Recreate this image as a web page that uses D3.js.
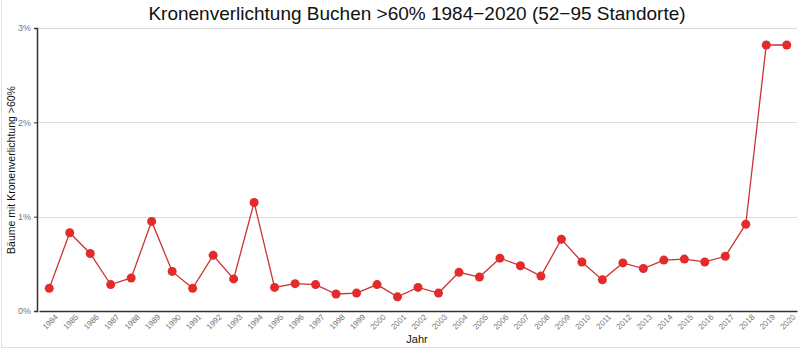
<!DOCTYPE html>
<html>
<head>
<meta charset="utf-8">
<script src="https://cdn.jsdelivr.net/npm/d3@7"></script>
<style>
  html, body { margin: 0; padding: 0; background: #fff; }
  svg { display: block; font-family: "Liberation Sans", Arial, sans-serif; }
</style>
</head>
<body>
<svg id="chart" width="800" height="350"></svg>
<script>
// Jahre der Erhebung
const years = [1984, 1985, 1986, 1987, 1988, 1989, 1990, 1991, 1992, 1993,
  1994, 1995, 1996, 1997, 1998, 1999, 2000, 2001, 2002, 2003,
  2004, 2005, 2006, 2007, 2008, 2009, 2010, 2011, 2012, 2013,
  2014, 2015, 2016, 2017, 2018, 2019, 2020];

// Anteil Buchen mit Kronenverlichtung >60% (in Prozent)
const share = [0.24, 0.83, 0.61, 0.28, 0.35, 0.95, 0.42, 0.24, 0.59, 0.34,
  1.15, 0.25, 0.29, 0.28, 0.18, 0.19, 0.28, 0.15, 0.25, 0.19,
  0.41, 0.36, 0.56, 0.48, 0.37, 0.76, 0.52, 0.33, 0.51, 0.45,
  0.54, 0.55, 0.52, 0.58, 0.92, 2.82, 2.82];

const yTicks = [0, 1, 2, 3];

const title = "Kronenverlichtung Buchen >60% 1984\u22122020 (52\u221295 Standorte)";
const xTitle = "Jahr";
const yTitle = "B\u00e4ume mit Kronenverlichtung >60%";

const svg = d3.select("#chart");
const W = 800, H = 350;
const m = { top: 28, right: 3, bottom: 39, left: 37 };
const iw = W - m.left - m.right;
const ih = H - m.top - m.bottom;

// Rahmen links und unten
svg.append("line").attr("x1", 1.5).attr("x2", 1.5).attr("y1", 0).attr("y2", 347.5)
  .attr("stroke", "#e0e0e0").attr("stroke-width", 1);
svg.append("line").attr("x1", 1).attr("x2", W).attr("y1", 347.5).attr("y2", 347.5)
  .attr("stroke", "#e0e0e0").attr("stroke-width", 1);

const g = svg.append("g").attr("transform", `translate(${m.left},${m.top})`);

const x = d3.scalePoint().domain(years).range([2, iw]).padding(0.5);
const y = d3.scaleLinear().domain([0, 3]).range([ih, 0]);

// Gitterlinien
g.append("g").selectAll("line").data(yTicks.filter(d => d > 0)).join("line")
  .attr("x1", 0).attr("x2", iw)
  .attr("y1", d => Math.round(y(d)) + 0.5).attr("y2", d => Math.round(y(d)) + 0.5)
  .attr("stroke", "#dcdcdc").attr("stroke-width", 1);

// Y-Achse
const yAxis = g.append("g")
  .call(d3.axisLeft(y).tickValues(yTicks).tickFormat(d => d + "%").tickSize(3).tickPadding(3));
yAxis.select(".domain").attr("stroke", "#333").attr("stroke-width", 1.5);
yAxis.selectAll(".tick line").attr("stroke", "#333");
yAxis.selectAll(".tick text").attr("fill", "#777").attr("font-size", "9px")
  .attr("font-family", "Liberation Sans, Arial, sans-serif");

// X-Achse
const xAxis = g.append("g").attr("transform", `translate(0,${ih})`)
  .call(d3.axisBottom(x).tickSize(0).tickPadding(6).tickSizeOuter(0));
xAxis.select(".domain").attr("stroke", "#333").attr("stroke-width", 1.5);
xAxis.selectAll(".tick text")
  .attr("fill", "#777").attr("font-size", "8px")
  .attr("font-family", "Liberation Sans, Arial, sans-serif")
  .attr("text-anchor", "end")
  .attr("dx", "0.2em").attr("dy", "0.6em")
  .attr("transform", "rotate(-45)");

// Linie
const line = d3.line().x((d, i) => x(years[i])).y(d => y(d));
g.append("path").datum(share)
  .attr("d", line)
  .attr("fill", "none")
  .attr("stroke", "#cc3333")
  .attr("stroke-width", 1.3);

// Punkte
g.append("g").selectAll("circle").data(share).join("circle")
  .attr("cx", (d, i) => x(years[i]))
  .attr("cy", d => y(d))
  .attr("r", 4.5)
  .attr("fill", "#e32b2b");

// Titel
svg.append("text")
  .attr("x", m.left + iw / 2).attr("y", 20)
  .attr("text-anchor", "middle")
  .attr("font-size", "19px").attr("fill", "#111")
  .text(title);

// Achsentitel
svg.append("text")
  .attr("x", m.left + iw / 2).attr("y", 343)
  .attr("text-anchor", "middle")
  .attr("font-size", "11px").attr("fill", "#111")
  .text(xTitle);

svg.append("text")
  .attr("transform", `translate(15,170) rotate(-90)`)
  .attr("text-anchor", "middle")
  .attr("font-size", "10.5px").attr("fill", "#111")
  .text(yTitle);
</script>
</body>
</html>
